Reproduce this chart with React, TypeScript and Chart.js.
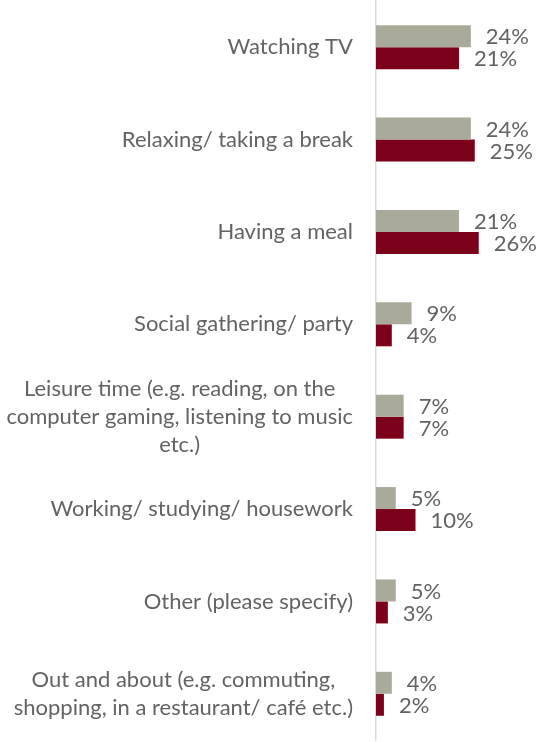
import React, { useEffect, useRef } from "react";
import { Chart, registerables } from "chart.js";

Chart.register(...registerables);

const categories: (string | string[])[] = [
  "Watching TV",
  "Relaxing/ taking a break",
  "Having a meal",
  "Social gathering/ party",
  ["Leisure time (e.g. reading, on the", "computer gaming, listening to music", "etc.)"],
  "Working/ studying/ housework",
  "Other (please specify)",
  ["Out and about (e.g. commuting,", "shopping, in a restaurant/ café etc.)"],
];
const seriesGray = [24, 24, 21, 9, 7, 5, 5, 4];
const seriesRed = [21, 25, 26, 4, 7, 10, 3, 2];

const FONT = "Lato, 'Noto Sans', sans-serif";
const TEXT_COLOR = "#636363";

const dataLabelPlugin = {
  id: "dataLabels",
  afterDatasetsDraw(chart: any) {
    const ctx = chart.ctx;
    ctx.save();
    ctx.font = `22px ${FONT}`;
    ctx.fillStyle = TEXT_COLOR;
    ctx.textAlign = "left";
    ctx.textBaseline = "middle";
    chart.data.datasets.forEach((ds: any, di: number) => {
      const meta = chart.getDatasetMeta(di);
      meta.data.forEach((bar: any, i: number) => {
        ctx.fillText(`${ds.data[i]}%`, bar.x + 15, bar.y + 1);
      });
    });
    ctx.restore();
  },
};

const categoryLabelPlugin = {
  id: "categoryLabels",
  afterDraw(chart: any) {
    const ctx = chart.ctx;
    const yScale = chart.scales.y;
    const rightEdge = yScale.right - 23;
    const lineH = 28;
    ctx.save();
    ctx.font = `22px ${FONT}`;
    ctx.fillStyle = TEXT_COLOR;
    ctx.textAlign = "center";
    ctx.textBaseline = "middle";
    (chart.data.labels as (string | string[])[]).forEach((lab, i) => {
      const lines = Array.isArray(lab) ? lab : [lab];
      const maxW = Math.max(...lines.map((l) => ctx.measureText(l).width));
      const cx = rightEdge - maxW / 2;
      const cy = yScale.getPixelForTick(i);
      const start = cy - ((lines.length - 1) * lineH) / 2;
      lines.forEach((l, k) => ctx.fillText(l, cx, start + k * lineH));
    });
    ctx.restore();
  },
};

export default function App() {
  const ref = useRef<HTMLCanvasElement | null>(null);
  useEffect(() => {
    document.body.style.margin = "0";
    if (!ref.current) return;
    const chart = new Chart(ref.current, {
      type: "bar",
      data: {
        labels: categories,
        datasets: [
          { label: "A", data: seriesGray, backgroundColor: "#AAAA9B", barPercentage: 1, categoryPercentage: 0.476 },
          { label: "B", data: seriesRed, backgroundColor: "#7B0019", barPercentage: 1, categoryPercentage: 0.476 },
        ],
      },
      options: {
        indexAxis: "y",
        animation: false,
        responsive: true,
        maintainAspectRatio: false,
        layout: { padding: { top: 1, bottom: 2, left: 0, right: 0 } },
        plugins: { legend: { display: false }, tooltip: { enabled: false } },
        scales: {
          x: { display: false, min: 0, max: 41 },
          y: {
            grid: { display: false },
            border: { display: true, color: "#D9D9D9", width: 1.5 },
            ticks: { display: false },
            afterFit: (s: any) => {
              s.width = 376;
            },
          },
        },
      },
      plugins: [dataLabelPlugin, categoryLabelPlugin],
    });
    return () => chart.destroy();
  }, []);
  return (
    <div style={{ width: 538, height: 742, position: "relative" }}>
      <canvas ref={ref} />
    </div>
  );
}
